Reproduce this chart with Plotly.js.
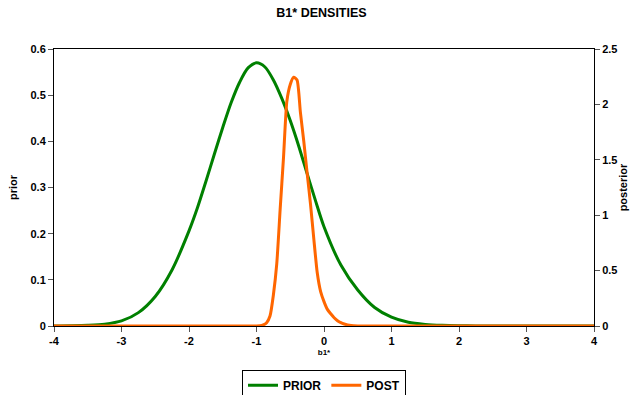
<!DOCTYPE html>
<html>
<head>
<meta charset="utf-8">
<script src="https://cdn.plot.ly/plotly-3.0.1.min.js"></script>
<style>html,body{margin:0;padding:0;background:#fff;}#chart{width:643px;height:395px;}</style>
</head>
<body>
<div id="chart"></div>
<script>
const priorX = [-4, -3.75, -3.5, -3.25, -3, -2.75, -2.5, -2.25, -2, -1.875, -1.75, -1.625, -1.5, -1.375, -1.25, -1.125,
  -1, -0.875, -0.75, -0.625, -0.5, -0.375, -0.25, -0.125, 0, 0.25, 0.5, 0.75, 1, 1.25, 1.5, 1.75, 2, 2.25, 2.5, 3, 3.5, 4];
const priorY = [0.0001, 0.0005, 0.0015, 0.004, 0.011, 0.029, 0.064, 0.122, 0.206, 0.256, 0.313, 0.372, 0.430, 0.484, 0.528, 0.559,
  0.570, 0.561, 0.533, 0.493, 0.445, 0.390, 0.330, 0.271, 0.215, 0.132, 0.078, 0.040, 0.019, 0.008, 0.0035, 0.0014, 0.0005, 0.0002, 0.0001, 0, 0, 0];

const postX = [-4, -3, -2, -1.5, -1, -0.95, -0.9, -0.85, -0.8, -0.75, -0.7, -0.65, -0.6, -0.55, -0.5,
  -0.45, -0.4, -0.35, -0.3, -0.25, -0.2, -0.15, -0.1, -0.05, 0, 0.05, 0.1, 0.15, 0.2, 0.25, 0.3,
  0.35, 0.4, 0.5, 0.6, 1, 2, 3, 4];
const postY = [0, 0, 0, 0, 0, 0.002, 0.01, 0.03, 0.09, 0.28, 0.56, 1.05, 1.52, 2.03, 2.18,
  2.245, 2.22, 1.93, 1.67, 1.38, 1.10, 0.78, 0.48, 0.31, 0.22, 0.15, 0.11, 0.075, 0.048, 0.03, 0.018,
  0.01, 0.005, 0.001, 0, 0, 0, 0, 0];

const xTicks = [-4, -3, -2, -1, 0, 1, 2, 3, 4];
const priorTicks = [0, 0.1, 0.2, 0.3, 0.4, 0.5, 0.6];
const postTicks = [0, 0.5, 1, 1.5, 2, 2.5];

const F = 'Liberation Sans, Arial, sans-serif';

const data = [
  {x: priorX, y: priorY, name: 'PRIOR', type: 'scatter', mode: 'lines',
   line: {color: '#008000', width: 3, shape: 'spline', smoothing: 0.8}, xaxis: 'x', yaxis: 'y'},
  {x: postX, y: postY, name: 'POST', type: 'scatter', mode: 'lines',
   line: {color: '#FF6600', width: 3, shape: 'spline', smoothing: 0.6}, xaxis: 'x', yaxis: 'y2'}
];

const layout = {
  width: 643, height: 395,
  margin: {l: 54, r: 49, t: 49, b: 69, autoexpand: false},
  paper_bgcolor: '#fff', plot_bgcolor: '#fff',
  font: {family: F, color: '#000', size: 11},
  title: {text: 'B1* DENSITIES', font: {family: F, size: 12.5, weight: 'bold', color: '#000'},
          x: 0.5, xanchor: 'center', y: 0.968, yanchor: 'middle'},
  showlegend: true,
  legend: {orientation: 'h', x: 0.5, xanchor: 'center', y: -0.158, yanchor: 'top',
           bordercolor: '#000', borderwidth: 1, font: {family: F, size: 12, weight: 'bold'},
           itemwidth: 30, tracegroupgap: 0, traceorder: 'normal'},
  xaxis: {range: [-4, 4], tickvals: xTicks, ticktext: xTicks.map(String), automargin: false,
          showline: true, linecolor: '#000', linewidth: 1, mirror: true,
          ticks: 'outside', ticklen: 5, tickcolor: '#555', showgrid: false, zeroline: false,
          tickfont: {family: F, size: 11, weight: 'bold'},
          title: {text: 'b1*', font: {family: F, size: 8, weight: 'bold'}, standoff: 3}},
  yaxis: {range: [0, 0.6], tickvals: priorTicks, ticktext: priorTicks.map(String), automargin: false,
          showline: true, linecolor: '#000', linewidth: 1, mirror: true,
          ticks: 'outside', ticklen: 5, tickcolor: '#555', showgrid: false, zeroline: false,
          tickfont: {family: F, size: 11, weight: 'bold'},
          title: {text: 'prior', font: {family: F, size: 11, weight: 'bold'}, standoff: 10}},
  yaxis2: {range: [0, 2.5], tickvals: postTicks, ticktext: postTicks.map(String), automargin: false,
           overlaying: 'y', side: 'right',
           showline: true, linecolor: '#000', linewidth: 1,
           ticks: 'outside', ticklen: 5, tickcolor: '#555', showgrid: false, zeroline: false,
           tickfont: {family: F, size: 11, weight: 'bold'},
           title: {text: 'posterior', font: {family: F, size: 11, weight: 'bold'}, standoff: 2}}
};

Plotly.newPlot('chart', data, layout, {displayModeBar: false, staticPlot: true});
</script>
</body>
</html>
